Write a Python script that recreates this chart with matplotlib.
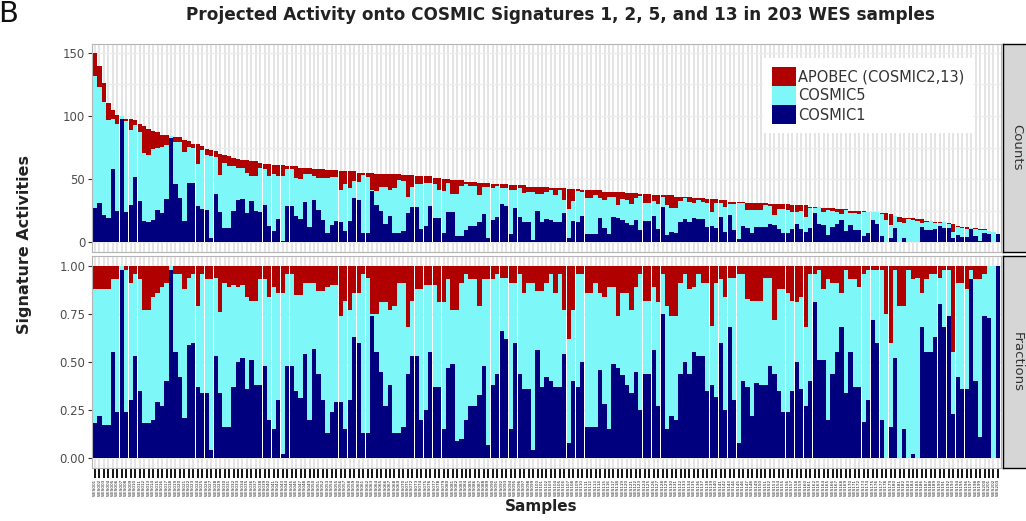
import matplotlib.pyplot as plt
import numpy as np

# values (203 WES samples, sorted by total activity)
total = [
    150, 140, 126, 110, 105, 101, 100, 98, 98, 97,
    94, 92, 90, 88, 87, 85, 85, 84, 83, 83,
    81, 80, 78, 78, 76, 74, 73, 72, 70, 69,
    68, 67, 66, 65, 65, 64, 64, 63, 62, 62,
    61, 61, 61, 60, 60, 60, 59, 59, 59, 58,
    58, 58, 57, 57, 57, 56, 56, 56, 56, 55,
    55, 55, 55, 54, 54, 54, 54, 54, 54, 53,
    53, 53, 52, 52, 52, 52, 51, 51, 50, 50,
    49, 49, 49, 48, 48, 48, 47, 47, 47, 46,
    46, 46, 46, 45, 45, 45, 45, 44, 44, 44,
    44, 44, 43, 43, 43, 43, 42, 42, 42, 41,
    41, 41, 41, 41, 40, 40, 40, 40, 40, 39,
    39, 39, 38, 38, 38, 37, 37, 37, 37, 37,
    36, 36, 36, 36, 35, 35, 35, 34, 34, 34,
    33, 33, 32, 32, 32, 32, 31, 31, 31, 31,
    31, 30, 30, 30, 30, 30, 29, 29, 29, 29,
    28, 28, 28, 27, 27, 27, 26, 26, 26, 25,
    25, 25, 25, 24, 24, 24, 23, 23, 22, 21,
    20, 19, 19, 19, 18, 18, 17, 17, 16, 16,
    16, 15, 14, 13, 12, 12, 11, 11, 10, 10,
    9, 8, 6,
]

cosmic1_frac = [
    0.18, 0.22, 0.17, 0.17, 0.55, 0.24, 0.98, 0.24, 0.30, 0.53,
    0.35, 0.18, 0.18, 0.20, 0.29, 0.27, 0.40, 0.98, 0.55, 0.42,
    0.21, 0.59, 0.60, 0.37, 0.34, 0.34, 0.04, 0.53, 0.34, 0.16,
    0.16, 0.37, 0.50, 0.52, 0.36, 0.51, 0.38, 0.38, 0.48, 0.20,
    0.15, 0.30, 0.02, 0.48, 0.48, 0.35, 0.31, 0.54, 0.20, 0.57,
    0.44, 0.30, 0.13, 0.24, 0.29, 0.29, 0.15, 0.30, 0.63, 0.60,
    0.13, 0.13, 0.74, 0.55, 0.45, 0.27, 0.38, 0.13, 0.13, 0.16,
    0.44, 0.53, 0.53, 0.20, 0.25, 0.55, 0.37, 0.37, 0.15, 0.47,
    0.49, 0.09, 0.10, 0.20, 0.27, 0.27, 0.33, 0.48, 0.07, 0.38,
    0.44, 0.66, 0.62, 0.15, 0.60, 0.44, 0.36, 0.36, 0.04, 0.56,
    0.37, 0.42, 0.40, 0.37, 0.37, 0.54, 0.08, 0.40, 0.37, 0.50,
    0.16, 0.16, 0.16, 0.46, 0.28, 0.15, 0.49, 0.47, 0.43, 0.38,
    0.34, 0.45, 0.25, 0.44, 0.44, 0.56, 0.27, 0.75, 0.15, 0.22,
    0.20, 0.44, 0.50, 0.44, 0.55, 0.53, 0.53, 0.35, 0.38, 0.32,
    0.60, 0.25, 0.68, 0.30, 0.08, 0.40, 0.37, 0.22, 0.39, 0.38,
    0.38, 0.48, 0.44, 0.35, 0.24, 0.24, 0.35, 0.50, 0.36, 0.27,
    0.40, 0.81, 0.51, 0.51, 0.20, 0.44, 0.55, 0.68, 0.34, 0.55,
    0.37, 0.37, 0.19, 0.30, 0.72, 0.60, 0.20, 0.00, 0.16, 0.52,
    0.00, 0.15, 0.00, 0.02, 0.00, 0.68, 0.55, 0.55, 0.63, 0.80,
    0.68, 0.74, 0.23, 0.42, 0.36, 0.36, 0.93, 0.40, 0.11, 0.74,
    0.73, 0.00, 1.00,
]

apobec_frac = [
    0.12, 0.12, 0.12, 0.12, 0.07, 0.07, 0.00, 0.02, 0.09, 0.04,
    0.07, 0.23, 0.23, 0.16, 0.14, 0.11, 0.09, 0.00, 0.04, 0.04,
    0.12, 0.06, 0.04, 0.21, 0.04, 0.07, 0.07, 0.06, 0.24, 0.09,
    0.11, 0.10, 0.11, 0.10, 0.16, 0.18, 0.18, 0.07, 0.07, 0.16,
    0.11, 0.14, 0.14, 0.04, 0.04, 0.15, 0.15, 0.09, 0.09, 0.09,
    0.13, 0.13, 0.11, 0.10, 0.10, 0.26, 0.18, 0.23, 0.14, 0.14,
    0.04, 0.06, 0.25, 0.25, 0.19, 0.19, 0.23, 0.21, 0.09, 0.09,
    0.32, 0.18, 0.12, 0.12, 0.10, 0.10, 0.10, 0.19, 0.19, 0.07,
    0.23, 0.23, 0.09, 0.04, 0.07, 0.07, 0.21, 0.07, 0.07, 0.07,
    0.04, 0.06, 0.06, 0.09, 0.09, 0.04, 0.14, 0.09, 0.09, 0.13,
    0.13, 0.09, 0.04, 0.14, 0.04, 0.23, 0.38, 0.23, 0.04, 0.04,
    0.14, 0.14, 0.09, 0.14, 0.16, 0.11, 0.11, 0.26, 0.14, 0.14,
    0.23, 0.11, 0.04, 0.18, 0.18, 0.11, 0.19, 0.04, 0.21, 0.26,
    0.26, 0.09, 0.04, 0.12, 0.11, 0.04, 0.09, 0.09, 0.31, 0.09,
    0.07, 0.16, 0.06, 0.06, 0.04, 0.04, 0.17, 0.18, 0.18, 0.18,
    0.06, 0.06, 0.28, 0.12, 0.12, 0.14, 0.18, 0.19, 0.16, 0.32,
    0.04, 0.04, 0.02, 0.12, 0.07, 0.09, 0.09, 0.14, 0.02, 0.07,
    0.07, 0.11, 0.04, 0.02, 0.02, 0.02, 0.02, 0.25, 0.40, 0.02,
    0.21, 0.21, 0.02, 0.07, 0.06, 0.14, 0.07, 0.04, 0.04, 0.06,
    0.02, 0.02, 0.45, 0.09, 0.09, 0.12, 0.02, 0.07, 0.07, 0.04,
    0.00, 0.00, 0.00,
]

signatures = ['COSMIC1', 'COSMIC5', 'APOBEC (COSMIC2,13)']
colors = ['#00007F', '#7DF7F7', '#B00000']
samples = ['WES%03d' % (i + 1) for i in range(len(total))]

total = np.array(total, dtype=float)
f1 = np.array(cosmic1_frac)
fa = np.array(apobec_frac)
f5 = 1.0 - f1 - fa
fracs = [f1, f5, fa]
counts = [total * f for f in fracs]
x = np.arange(len(total))

W, H = 1026, 521
fig = plt.figure(figsize=(W / 100, H / 100), dpi=100)


def box(l, t, r, b):
    return [l / W, 1 - b / H, (r - l) / W, (b - t) / H]


ax1 = fig.add_axes(box(92.3, 43.5, 1000.6, 251.5))
ax2 = fig.add_axes(box(92.3, 256.4, 1000.6, 467.6))

for ax, data in [(ax1, counts), (ax2, fracs)]:
    bottom = np.zeros(len(x))
    for name, vals, c in zip(signatures, data, colors):
        ax.bar(x, vals, bottom=bottom, width=0.95, color=c, linewidth=0, label=name)
        bottom = bottom + vals
    ax.set_xlim(-0.6, len(x) - 0.4)
    ax.set_xticks(x)
    ax.set_axisbelow(True)
    ax.grid(axis='x', color='#e2e2e2', lw=1.3)
    ax.grid(axis='y', which='both', color='#ececec', lw=0.8)
    for s in ax.spines.values():
        s.set_color('#b5b5b5')
        s.set_linewidth(0.8)
    ax.tick_params(axis='y', length=3, width=0.8, color='#333333',
                   labelsize=8.5, labelcolor='#4d4d4d', pad=2)

ax1.set_ylim(-7.5, 157.5)
ax1.set_yticks([0, 50, 100, 150])
ax1.set_yticks([25, 75, 125], minor=True)
ax1.tick_params(axis='y', which='minor', length=0)
ax1.tick_params(axis='x', length=0, labelbottom=False)

ax2.set_ylim(-0.05, 1.05)
ax2.set_yticks([0, 0.25, 0.5, 0.75, 1.0])
ax2.set_yticklabels(['0.00', '0.25', '0.50', '0.75', '1.00'])
ax2.set_xticklabels(samples, rotation=90, fontsize=3.0, color='#1a1a1a')
ax2.tick_params(axis='x', length=7, width=1.3, color='black', pad=1)

# facet strips on the right
for (t, b), lab in [((43.5, 251.5), 'Counts'), ((256.4, 467.6), 'Fractions')]:
    sax = fig.add_axes(box(1003, t, 1034, b))
    sax.set_facecolor('#d6d6d6')
    sax.set_xticks([])
    sax.set_yticks([])
    for s in sax.spines.values():
        s.set_color('black')
        s.set_linewidth(1)
    sax.text(0.45, 0.5, lab, rotation=270, ha='center', va='center',
             fontsize=9.5, color='#333333', transform=sax.transAxes)

handles, labels = ax1.get_legend_handles_labels()
leg = fig.legend(handles[::-1], labels[::-1], loc='upper left',
                 bbox_to_anchor=(763 / W, 1 - 58 / H), bbox_transform=fig.transFigure,
                 fontsize=10.5, handlelength=1.65, handleheight=1.65, labelspacing=0,
                 handletextpad=0.15, borderpad=0.6, borderaxespad=0,
                 frameon=True, fancybox=False, framealpha=1, labelcolor='#333333')
leg.get_frame().set_facecolor('white')
leg.get_frame().set_edgecolor('none')

fig.text(560 / W, 1 - 15 / H,
         'Projected Activity onto COSMIC Signatures 1, 2, 5, and 13 in 203 WES samples',
         ha='center', va='center', fontsize=12.2, fontweight='bold', color='#222222')
fig.text(25 / W, 1 - 245 / H, 'Signature Activities', rotation=90,
         ha='center', va='center', fontsize=11.5, fontweight='bold', color='#222222')
fig.text(541 / W, 1 - 507 / H, 'Samples', ha='center', va='center',
         fontsize=11, fontweight='bold', color='#222222')
fig.text(-2 / W, 1 - 14 / H, 'B', ha='left', va='center', fontsize=21, color='#111111')

fig.savefig('out.png', dpi=100)
